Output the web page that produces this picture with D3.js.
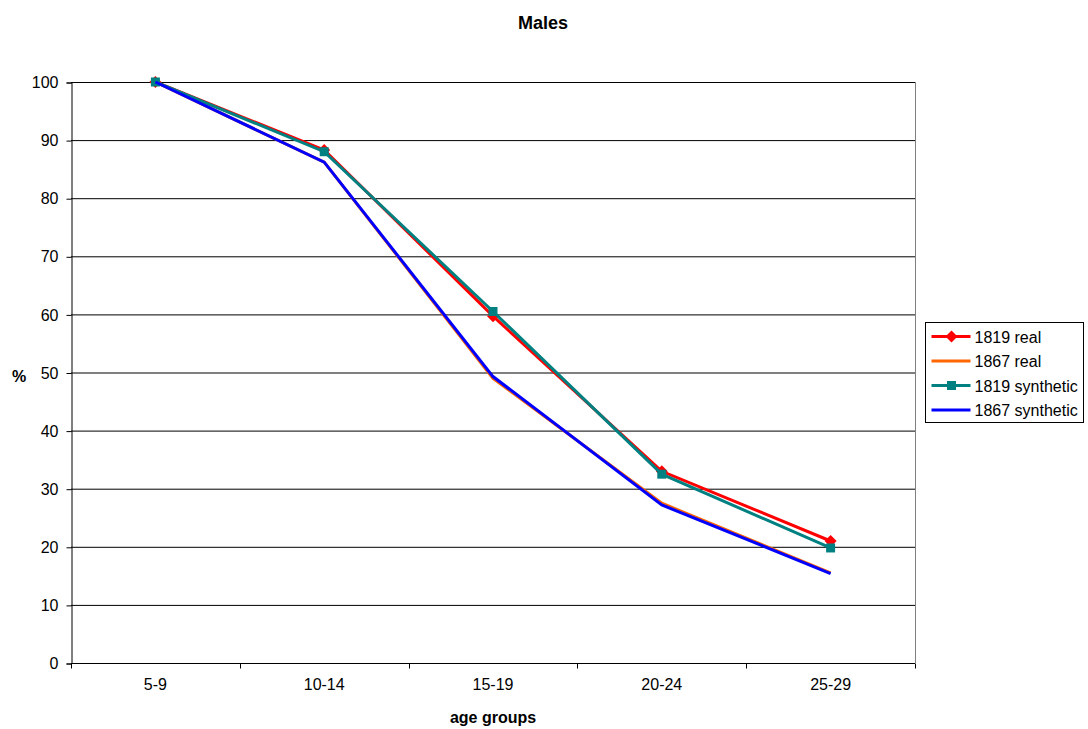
<!DOCTYPE html>
<html>
<head>
<meta charset="utf-8">
<script src="https://cdn.jsdelivr.net/npm/d3@7"></script>
<style>
  body { margin: 0; background: #fff; }
  text { font-family: "Liberation Sans", Arial, sans-serif; }
</style>
</head>
<body>
<div id="chart"></div>
<script>
var width = 1088, height = 729;
var margin = {top: 82, right: 173, bottom: 66, left: 71};

// data
var ageGroups = ["5-9", "10-14", "15-19", "20-24", "25-29"];
var real1819 = [100, 88.3, 59.7, 33.0, 21.0];
var real1867 = [100, 86.2, 49.0, 27.5, 15.5];
var synth1819 = [100, 88.0, 60.5, 32.5, 19.8];
var synth1867 = [100, 86.2, 49.3, 27.2, 15.4];
var yTicks = [0, 10, 20, 30, 40, 50, 60, 70, 80, 90, 100];

var series = [
  {name: "1819 real", values: real1819, color: "#ff0000", marker: "diamond"},
  {name: "1867 real", values: real1867, color: "#ff6600", marker: null},
  {name: "1819 synthetic", values: synth1819, color: "#008080", marker: "square"},
  {name: "1867 synthetic", values: synth1867, color: "#0000ff", marker: null}
];

// marker shapes
function markerPath(type) {
  if (type == "diamond") return "M0,-6L6,0L0,6L-6,0Z";
  return "M-4.5,-4.5H4.5V4.5H-4.5Z";
}

var svg = d3.select("#chart").append("svg")
  .attr("width", width)
  .attr("height", height);

var x = d3.scaleBand()
  .domain(ageGroups)
  .range([margin.left, width - margin.right]);

var y = d3.scaleLinear()
  .domain([0, 100])
  .range([height - margin.bottom, margin.top]);

// gridlines
svg.append("g")
  .selectAll("line")
  .data(yTicks.filter(function(d) { return d > 0; }))
  .enter().append("line")
  .attr("x1", margin.left)
  .attr("x2", width - margin.right)
  .attr("y1", function(d) { return y(d) + 0.5; })
  .attr("y2", function(d) { return y(d) + 0.5; })
  .attr("stroke", "#000")
  .attr("stroke-width", 1);

// plot border (right side)
svg.append("line")
  .attr("x1", width - margin.right + 0.5)
  .attr("x2", width - margin.right + 0.5)
  .attr("y1", margin.top)
  .attr("y2", height - margin.bottom)
  .attr("stroke", "#808080");

// y axis
var yAxis = d3.axisLeft(y).tickValues(yTicks).tickSize(5).tickPadding(8);
var gy = svg.append("g")
  .attr("transform", "translate(" + (margin.left + 0.5) + ",0.5)")
  .call(yAxis);
gy.selectAll("text").style("font-size", "16px").attr("fill", "#000");
gy.selectAll("line, path").attr("stroke", "#000");

// x axis, ticks at band edges
var xAxis = d3.axisBottom(x).tickSize(0).tickPadding(12);
var gx = svg.append("g")
  .attr("transform", "translate(0," + (height - margin.bottom + 0.5) + ")")
  .call(xAxis);
gx.select("path").attr("stroke", "#000").attr("d", "M" + margin.left + ",0H" + (width - margin.right));
gx.selectAll("text").style("font-size", "16px").attr("fill", "#000").attr("dy", "0.9em");
var edges = ageGroups.map(function(d) { return x(d); }).concat([x.range()[1]]);
gx.selectAll(".edge")
  .data(edges)
  .enter().append("line")
  .attr("class", "edge")
  .attr("x1", function(d) { return Math.round(d) + 0.5; })
  .attr("x2", function(d) { return Math.round(d) + 0.5; })
  .attr("y1", 0)
  .attr("y2", 5)
  .attr("stroke", "#000");

var cx = function(d, i) { return x(ageGroups[i]) + x.bandwidth() / 2; };

var line = d3.line()
  .x(function(d, i) { return cx(d, i); })
  .y(function(d) { return y(d); });

series.forEach(function(s) {
  svg.append("path")
    .datum(s.values)
    .attr("d", line)
    .attr("fill", "none")
    .attr("stroke", s.color)
    .attr("stroke-width", 3);

  if (s.marker) {
    svg.append("g")
      .selectAll("path")
      .data(s.values)
      .enter().append("path")
      .attr("d", markerPath(s.marker))
      .attr("transform", function(d, i) { return "translate(" + cx(d, i) + "," + y(d) + ")"; })
      .attr("fill", s.color);
  }
});

// titles
svg.append("text")
  .attr("x", 543)
  .attr("y", 29)
  .attr("text-anchor", "middle")
  .style("font-size", "18px")
  .attr("font-weight", "bold")
  .text("Males");

svg.append("text")
  .attr("x", 493)
  .attr("y", 723)
  .attr("text-anchor", "middle")
  .style("font-size", "16px")
  .attr("font-weight", "bold")
  .text("age groups");

svg.append("text")
  .attr("x", 19)
  .attr("y", 382)
  .attr("text-anchor", "middle")
  .style("font-size", "16px")
  .attr("font-weight", "bold")
  .text("%");

// legend
var legend = svg.append("g").attr("transform", "translate(925.5,322.5)");
legend.append("rect")
  .attr("width", 158)
  .attr("height", 100)
  .attr("fill", "#fff")
  .attr("stroke", "#000");

var items = legend.selectAll(".item")
  .data(series)
  .enter().append("g")
  .attr("class", "item")
  .attr("transform", function(d, i) { return "translate(0," + (14 + i * 24.5) + ")"; });

items.append("line")
  .attr("x1", 6)
  .attr("x2", 45)
  .attr("stroke", function(d) { return d.color; })
  .attr("stroke-width", 3);

items.filter(function(d) { return d.marker; })
  .append("path")
  .attr("d", function(d) { return markerPath(d.marker); })
  .attr("transform", "translate(26,0)")
  .attr("fill", function(d) { return d.color; });

items.append("text")
  .attr("x", 49)
  .attr("y", 6)
  .style("font-size", "16px")
  .text(function(d) { return d.name; });
</script>
</body>
</html>
